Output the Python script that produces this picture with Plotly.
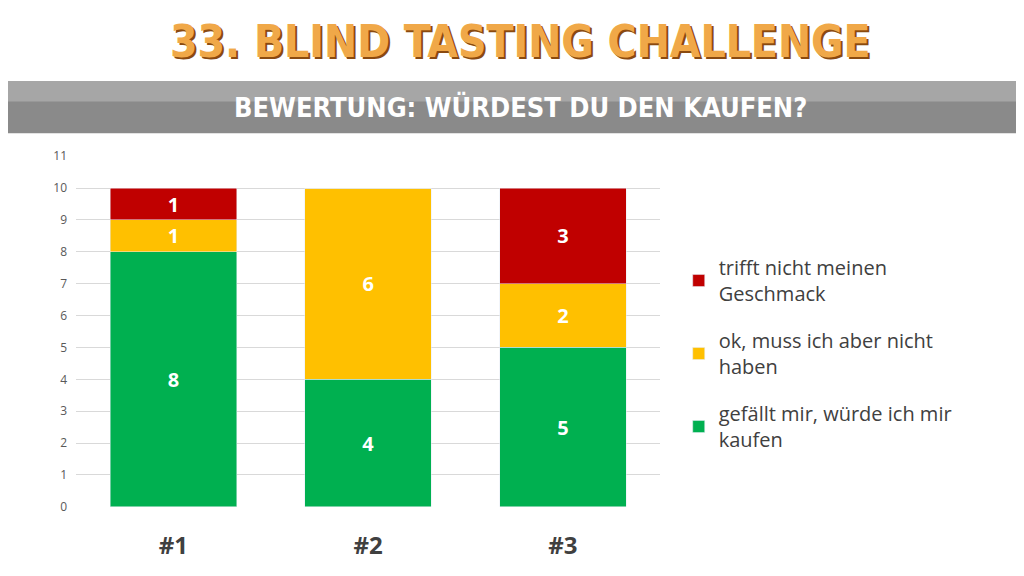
import plotly.graph_objects as go

categories = ["#1", "#2", "#3"]
gefaellt = [8, 4, 5]
ok = [1, 6, 2]
trifft_nicht = [1, 0, 3]

series = [
    ("gefällt mir, würde ich mir<br>kaufen", gefaellt, "#00b050"),
    ("ok, muss ich aber nicht<br>haben", ok, "#ffc000"),
    ("trifft nicht meinen<br>Geschmack", trifft_nicht, "#c00000"),
]

fig = go.Figure()
for i, (name, vals, color) in enumerate(series):
    fig.add_trace(go.Bar(
        x=categories, y=vals, name=name, marker_color=color,
        legendgroup=f"g{i}", legendrank=1000 - i,
        text=[str(v) if v else "" for v in vals],
        textposition="inside", insidetextanchor="middle", textangle=0,
        constraintext="none",
        textfont=dict(family="Open Sans", size=20, color="white", weight="bold"),
    ))

fig.update_layout(
    width=1024, height=576,
    barmode="stack", bargap=0.35,
    plot_bgcolor="white", paper_bgcolor="white",
    margin=dict(l=0, r=0, t=0, b=0),
    font=dict(family="Open Sans", color="#404040"),
    uniformtext=dict(minsize=20, mode="show"),
    xaxis=dict(domain=[0.0665, 0.637], tickfont=dict(size=24, weight="bold", color="#404040"),
               ticks="", ticklabelstandoff=22, showline=False),
    yaxis=dict(domain=[0.1237, 0.751], range=[0, 11], dtick=1, gridcolor="#d9d9d9",
               tickfont=dict(size=12, color="#595959"), zeroline=False, ticklabelstandoff=8),
    legend=dict(x=0.655, y=0.398, yanchor="middle", xanchor="left",
                traceorder="grouped", font=dict(size=20, color="#404040"), tracegroupgap=18),
    shapes=[
        dict(type="rect", xref="paper", yref="paper", x0=-0.03, x1=1.03, y0=0.792, y1=0.885,
             fillcolor="#8a8a8a", line_width=0, layer="below"),
        dict(type="rect", xref="paper", yref="paper", x0=-0.03, x1=1.03, y0=0.849, y1=0.885,
             fillcolor="#a6a6a6", line_width=0, layer="below"),
    ],
    annotations=[
        dict(text="33. BLIND TASTING CHALLENGE", xref="paper", yref="paper", x=0.5, y=0.957,
             yanchor="middle", showarrow=False,
             font=dict(family="DejaVu Sans Condensed", size=44, color="#f0a848", weight="bold",
                       shadow="2px 2px 0px #8a4a10")),
        dict(text="BEWERTUNG: WÜRDEST DU DEN KAUFEN?", xref="paper", yref="paper", x=0.5, y=0.839,
             yanchor="middle", showarrow=False,
             font=dict(family="DejaVu Sans Condensed", size=27, color="white", weight="bold")),
    ],
)

fig.write_html("out.html")
